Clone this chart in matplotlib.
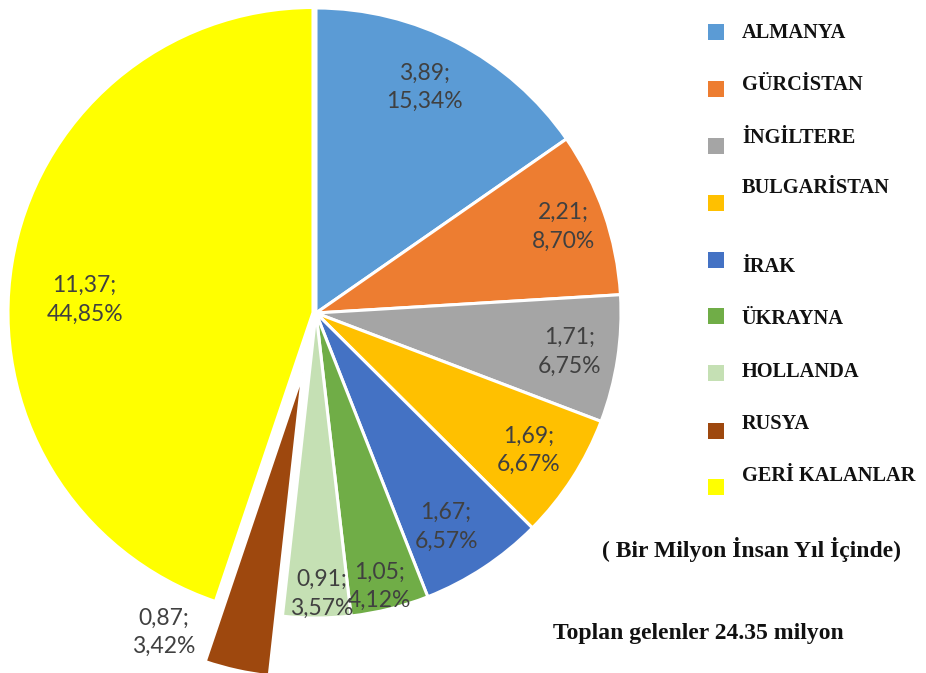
import matplotlib
matplotlib.use("Agg")
import matplotlib.pyplot as plt
import numpy as np

# data (million visitors per year)
countries = ["ALMANYA", "GÜRCİSTAN", "İNGİLTERE", "BULGARİSTAN", "İRAK",
             "ÜKRAYNA", "HOLLANDA", "RUSYA", "GERİ KALANLAR"]
values = [3.89, 2.21, 1.71, 1.69, 1.67, 1.05, 0.91, 0.87, 11.37]
percents = [15.34, 8.70, 6.75, 6.67, 6.57, 4.12, 3.57, 3.42, 44.85]

colors = ["#5B9BD5", "#ED7D31", "#A5A5A5", "#FFC000", "#4472C4",
          "#70AD47", "#C5E0B4", "#9E480E", "#FFFF00"]
explode = [0, 0, 0, 0, 0, 0, 0, 0.2, 0.01]

# label placement: radius (pie units) and clockwise angle shift (deg)
label_r = [0.82, 0.86, 0.84, 0.83, 0.82, 0.92, 0.92, 1.16, 0.76]
label_shift = [-2, 0, 0, 0, 2, 1, -1, 13, -6]

# legend layout in pixels (top-down)
leg_text_y = [33, 85, 138, 188, 267, 319, 372, 424, 476]
leg_mark_y = [32, 89, 146, 203, 260, 316, 373, 431, 487]

W, H = 926, 673
R = 305.0
CX, CY = 316, 313


def fmt(v):
    return f"{v:.2f}".replace(".", ",")


fig = plt.figure(figsize=(W / 100, H / 100), dpi=100)
half = 1.3
ax = fig.add_axes([(CX - half * R) / W, (H - CY - half * R) / H,
                   2 * half * R / W, 2 * half * R / H])

wedges, _ = ax.pie(values, colors=colors, startangle=90, counterclock=False,
                   explode=explode, radius=1.0,
                   wedgeprops=dict(edgecolor="white", linewidth=2.2))
ax.set_xlim(-half, half)
ax.set_ylim(-half, half)
ax.axis("off")

for w, v, p, r, sh in zip(wedges, values, percents, label_r, label_shift):
    mid = np.deg2rad((w.theta1 + w.theta2) / 2 - sh)
    ax.text(r * np.cos(mid), r * np.sin(mid), f"{fmt(v)};\n{p:.2f}%".replace(".", ","),
            ha="center", va="center", fontsize=16.5, family="Lato",
            color="#404040", linespacing=1.45)

# legend drawn by hand to match the uneven spacing in the reference
for name, col, ty, my in zip(countries, colors, leg_text_y, leg_mark_y):
    fig.patches.append(plt.Rectangle(((708) / W, (H - my - 8) / H), 16 / W, 16 / H,
                                     transform=fig.transFigure, facecolor=col,
                                     edgecolor="none"))
    fig.text(742 / W, (H - ty) / H, name, ha="left", va="center",
             family="Liberation Serif", fontweight="bold", fontsize=14.7, color="#111111")

fig.text(602 / W, (H - 550) / H, "( Bir Milyon İnsan Yıl İçinde)", ha="left", va="center",
         family="Liberation Serif", fontweight="bold", fontsize=17, color="#111111")
fig.text(553 / W, (H - 633) / H, "Toplan gelenler 24.35 milyon", ha="left", va="center",
         family="Liberation Serif", fontweight="bold", fontsize=17, color="#111111")

fig.savefig("out.png", dpi=100)
